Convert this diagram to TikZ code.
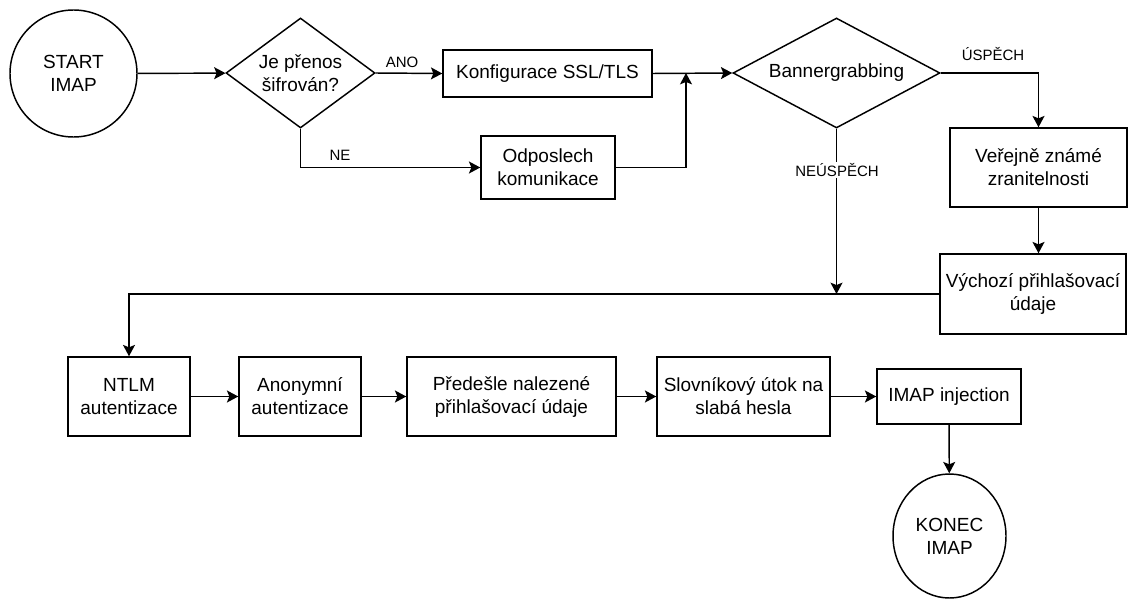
\documentclass[tikz,border=0pt]{standalone}
\usepackage{fontspec}
\setmainfont{Liberation Sans}
\usetikzlibrary{shapes.geometric,arrows.meta}

\tikzset{
  base/.style={draw=black, line width=1.1pt, align=center, inner sep=0pt,
    font=\fontsize{14.25}{17.25}\selectfont},
  stepbox/.style={base, rectangle},
  terminal/.style={base, ellipse},
  decision/.style={base, diamond},
  arr/.style={draw=black, line width=1.1pt,
    -{Stealth[length=8.5pt, width=9pt, inset=1.8pt]}},
  lbl/.style={font=\fontsize{11.25}{13.5}\selectfont, inner sep=1pt}
}

\begin{document}
\begin{tikzpicture}[x=0.75pt, y=-0.75pt]
  \useasboundingbox (0,0) rectangle (1128,599);

  % top row
  \node[terminal, minimum width=95.25pt, minimum height=95.25pt] (start) at (73.5,73.5) {START\\IMAP};
  \node[decision, aspect=1.35, minimum width=111.75pt, minimum height=82.5pt] (enc) at (300.5,73) {Je přenos\\šifrován?};
  \node[stepbox, minimum width=156.75pt, minimum height=35.25pt] (ssl) at (547.5,73.5) {Konfigurace SSL/TLS};
  \node[stepbox, minimum width=100.5pt, minimum height=47.25pt] (sniff) at (548,167.5) {Odposlech\\komunikace};
  \node[decision, aspect=1.88, minimum width=155.25pt, minimum height=82.5pt] (banner) at (836.5,73) {Bannergrabbing};

  % right column
  \node[stepbox, minimum width=132.75pt, minimum height=59.25pt] (vuln) at (1038.5,167.5) {Veřejně známé\\zranitelnosti};
  \node[stepbox, minimum width=139.5pt, minimum height=60pt] (defcred) at (1033,294) {Výchozí přihlašovací\\údaje};

  % bottom row
  \node[stepbox, minimum width=91.5pt, minimum height=59.25pt] (ntlm) at (129,396.5) {NTLM\\autentizace};
  \node[stepbox, minimum width=91.5pt, minimum height=59.25pt] (anon) at (300,396.5) {Anonymní\\autentizace};
  \node[stepbox, minimum width=156.75pt, minimum height=59.25pt] (prev) at (511.5,396.5) {Předešle nalezené\\přihlašovací údaje};
  \node[stepbox, minimum width=129.75pt, minimum height=59.25pt] (dict) at (743.5,396.5) {Slovníkový útok na\\slabá hesla};
  \node[stepbox, minimum width=108pt, minimum height=41.25pt] (inj) at (949,396.5) {IMAP injection};
  \node[terminal, minimum width=84.75pt, minimum height=93pt] (end) at (949.5,536) {KONEC\\IMAP};

  % junction points
  \coordinate (join) at (686,73);
  \coordinate (fail) at (836.5,294);

  % connectors
  \draw[arr] (start) -- (enc);
  \draw[arr] (enc.east) -- (ssl.west);
  \draw[arr] (enc.south) |- (sniff.west);
  \draw[arr] (sniff.east) -| (join);
  \draw[arr] (ssl.east) -- (banner.west);
  \draw[arr] (banner.east) -| (vuln.north);
  \draw[arr] (vuln.south) -- (vuln.south |- defcred.north);
  \draw[arr] (banner.south) -- (fail);
  \draw[arr] (defcred.west) -| (ntlm.north);
  \draw[arr] (ntlm) -- (anon);
  \draw[arr] (anon) -- (prev);
  \draw[arr] (prev) -- (dict);
  \draw[arr] (dict) -- (inj);
  \draw[arr] (inj) -- (end);

  % branch labels
  \node[lbl] (yes) at (402,62) {ANO};
  \node[lbl] (no) at (340,155) {NE};
  \node[lbl] (ok) at (993,54) {ÚSPĚCH};
  \node[lbl, fill=white] (nok) at (837,170) {NEÚSPĚCH};
\end{tikzpicture}
\end{document}
